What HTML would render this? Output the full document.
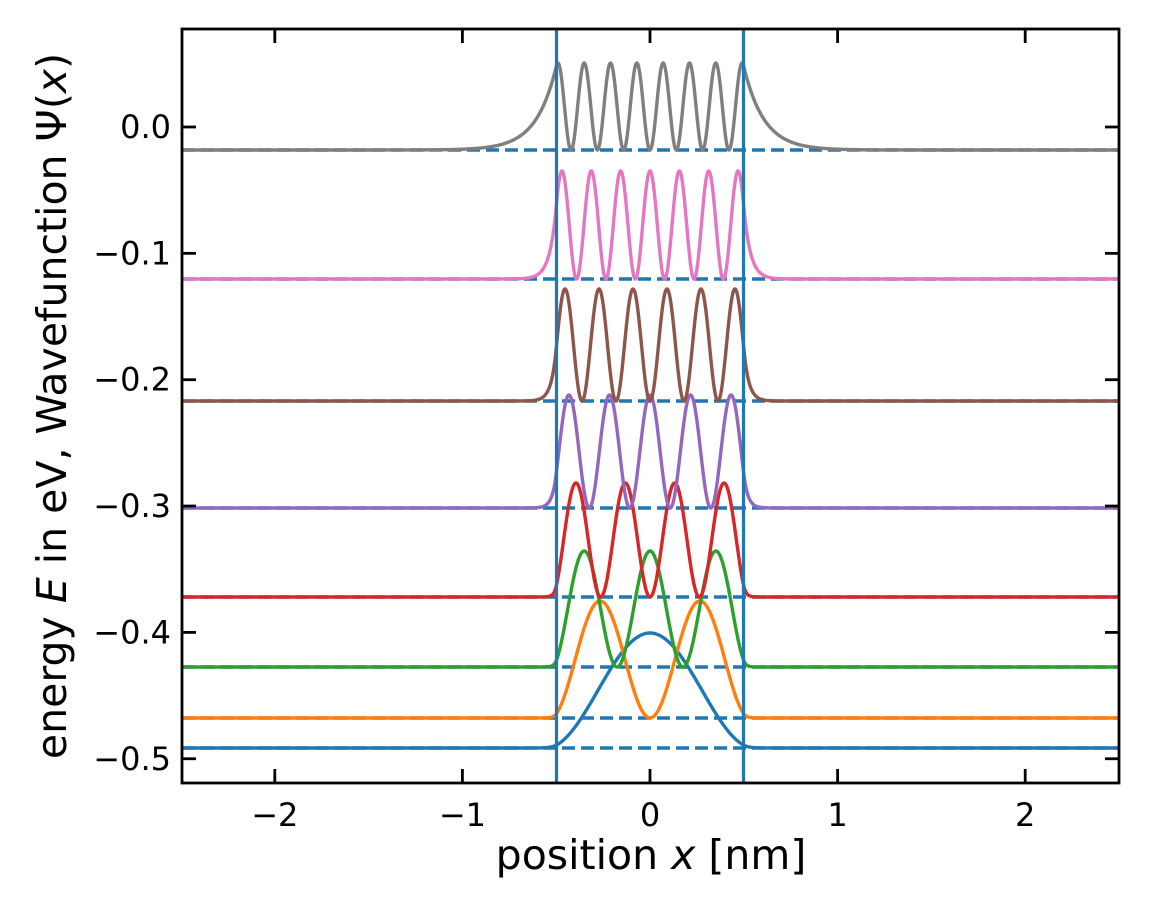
<!DOCTYPE html>
<html><head><meta charset="utf-8"><style>
body{margin:0;background:#fff}
svg text{font-family:"DejaVu Sans","Liberation Sans",sans-serif;fill:#000}
</style></head><body>
<svg id="s" width="1149" height="910" xmlns="http://www.w3.org/2000/svg">
<rect width="1149" height="910" fill="#fff"/>
<g id="dash"></g>
<g id="curves"></g>
<line x1="556.5" y1="29" x2="556.5" y2="783" stroke="#1f77b4" stroke-width="3.2"/>
<line x1="743.5" y1="29" x2="743.5" y2="783" stroke="#1f77b4" stroke-width="3.2"/>
<rect x="182" y="29" width="937" height="754" fill="none" stroke="#000" stroke-width="2.8"/>
<g id="ticks" stroke="#000" stroke-width="2.8"></g>
<g id="labels" font-size="32"></g>
<text x="651" y="869" font-size="41" text-anchor="middle">position <tspan font-style="italic">x</tspan> [nm]</text>
<text transform="translate(66,406) rotate(-90)" font-size="41" text-anchor="middle">energy <tspan font-style="italic">E</tspan> in eV, Wavefunction Ψ(<tspan font-style="italic">x</tspan>)</text>
</svg>
<script>
const X=x=>650+x*187.6;
const ns="http://www.w3.org/2000/svg";
function el(t,a,p){const e=document.createElementNS(ns,t);for(const k in a)e.setAttribute(k,a[k]);p.appendChild(e);return e;}
const cols=["#1f77b4","#ff7f0e","#2ca02c","#d62728","#9467bd","#8c564b","#e377c2","#7f7f7f"];
const base=[748,718,667,597,508,401,279,150];
const amp=[115,117,116,114,113,112,108,87];
const f=[0.9,0.88,0.85,0.8,0.63,0.52,0.39,0.13];
const dg=document.getElementById("dash"), cg=document.getElementById("curves");
for(let i=0;i<8;i++){
 el("line",{x1:182,x2:1119,y1:base[i],y2:base[i],stroke:"#1f77b4","stroke-width":3.4,"stroke-dasharray":"13 6"},dg);
}
for(let i=0;i<8;i++){
 const n=i+1,u=(n-1)*Math.PI/2+f[i]*Math.PI/2,k=u/0.5;
 const odd=n%2==1;
 const kap=odd?k*Math.tan(u):-k/Math.tan(u);
 const ps=x=>odd?Math.cos(k*x):Math.sin(k*x);
 const edge=ps(0.5);
 let d="";
 for(let j=0;j<=2000;j++){
  const x=-2.5+5*j/2000;let p;
  if(Math.abs(x)<=0.5)p=ps(x);else{p=edge*Math.exp(-kap*(Math.abs(x)-0.5));}
  const y=base[i]-amp[i]*p*p;
  d+=(j?"L":"M")+X(x).toFixed(2)+" "+y.toFixed(2);
 }
 el("path",{d:d,fill:"none",stroke:cols[i],"stroke-width":3.4},cg);
}
const tg=document.getElementById("ticks"),lg=document.getElementById("labels");
[-2,-1,0,1,2].forEach(v=>{const x=X(v);
 el("line",{x1:x,x2:x,y1:783,y2:769},tg);el("line",{x1:x,x2:x,y1:29,y2:43},tg);
 el("text",{x:x,y:826,"text-anchor":"middle"},lg).textContent=(v<0?"−":"")+Math.abs(v);});
[0,-0.1,-0.2,-0.3,-0.4,-0.5].forEach(v=>{const y=127+(-v)*1263.5;
 el("line",{x1:182,x2:196,y1:y,y2:y},tg);el("line",{x1:1119,x2:1105,y1:y,y2:y},tg);
 el("text",{x:171,y:y+11,"text-anchor":"end"},lg).textContent=(v<0?"−":"")+Math.abs(v).toFixed(1);});
</script>
</body></html>
